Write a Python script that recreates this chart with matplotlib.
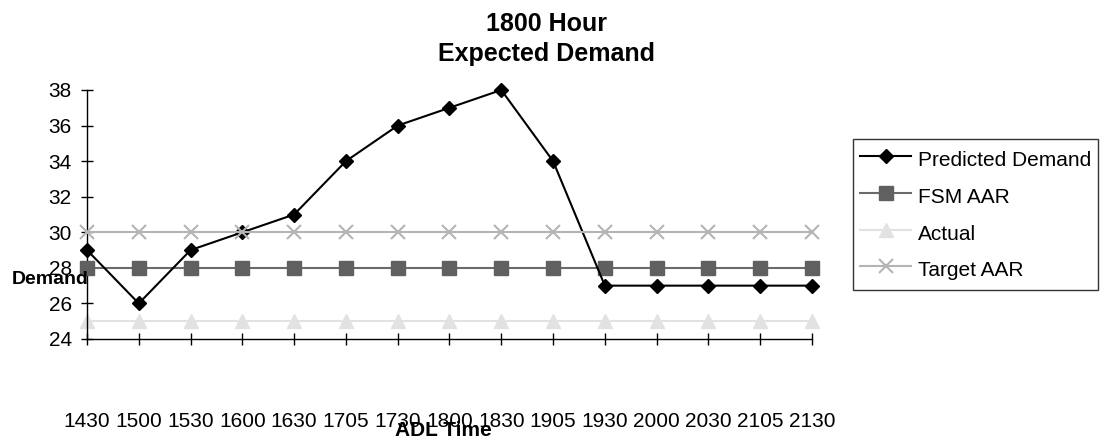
import matplotlib

matplotlib.use("Agg")
import matplotlib.pyplot as plt

# ADL times along the x axis and the four series drawn against them
times = ["1430", "1500", "1530", "1600", "1630", "1705", "1730", "1800",
         "1830", "1905", "1930", "2000", "2030", "2105", "2130"]
predicted_demand = [29, 26, 29, 30, 31, 34, 36, 37, 38, 34, 27, 27, 27, 27, 27]
fsm_aar = [28] * len(times)
actual = [25] * len(times)
target_aar = [30] * len(times)

W, H = 1104, 442
FONT = "Liberation Sans"

plt.rcParams.update({
    "font.family": [FONT, "DejaVu Sans"],
    "axes.linewidth": 1.0,
})

fig = plt.figure(figsize=(W / 100, H / 100), dpi=100)
ax = fig.add_axes([87 / W, 1 - 339 / H, (812 - 87) / W, (339 - 90) / H])

x = list(range(len(times)))

ax.plot(x, predicted_demand, color="black", lw=1.5, marker="D", ms=7.5,
        mfc="black", mec="black", label="Predicted Demand", zorder=4, clip_on=False)
ax.plot(x, fsm_aar, color="#6a6a6a", lw=1.5, marker="s", ms=9.5,
        mfc="#606060", mec="#606060", label="FSM AAR", zorder=3, clip_on=False)
ax.plot(x, actual, color="#e2e2e2", lw=1.5, marker="^", ms=9.5,
        mfc="#e2e2e2", mec="#e2e2e2", label="Actual", zorder=2, clip_on=False)
ax.plot(x, target_aar, color="#b4b4b4", lw=1.5, marker="x", ms=9.5, mew=1.5,
        mec="#b4b4b4", label="Target AAR", zorder=5, clip_on=False)

ax.set_xlim(0, len(times) - 1)
ax.set_ylim(24, 38)
ax.set_yticks(range(24, 39, 2))
ax.set_xticks(x)
ax.set_xticklabels(times)

for side in ("top", "right"):
    ax.spines[side].set_visible(False)
ax.tick_params(axis="y", direction="inout", length=8, width=1, pad=7,
               labelsize=15)
ax.tick_params(axis="x", direction="inout", length=9, width=1, pad=48,
               labelsize=15)

# titles and axis captions
fig.text(546 / W, 1 - 39 / H, "1800 Hour\nExpected Demand", ha="center",
         va="center", ma="center", fontsize=18, fontweight="bold",
         linespacing=1.3)
fig.text(12 / W, 1 - 280 / H, "Demand", ha="left", va="center",
         fontsize=14, fontweight="bold")
fig.text(443 / W, 1 - 431 / H, "ADL Time", ha="center", va="center",
         fontsize=15, fontweight="bold")

# tall handle rows give the roomy row spacing while keeping side padding tight
leg = ax.legend(loc="upper left", bbox_to_anchor=(853 / W, 1 - 139 / H),
                bbox_transform=fig.transFigure, borderaxespad=0,
                fontsize=15, frameon=True, fancybox=False, edgecolor="black",
                handlelength=2.45, handleheight=1.6, handletextpad=0.3,
                labelspacing=0.47, borderpad=0.35)
leg.get_frame().set_linewidth(1.0)

fig.savefig("out.png", dpi=100)
